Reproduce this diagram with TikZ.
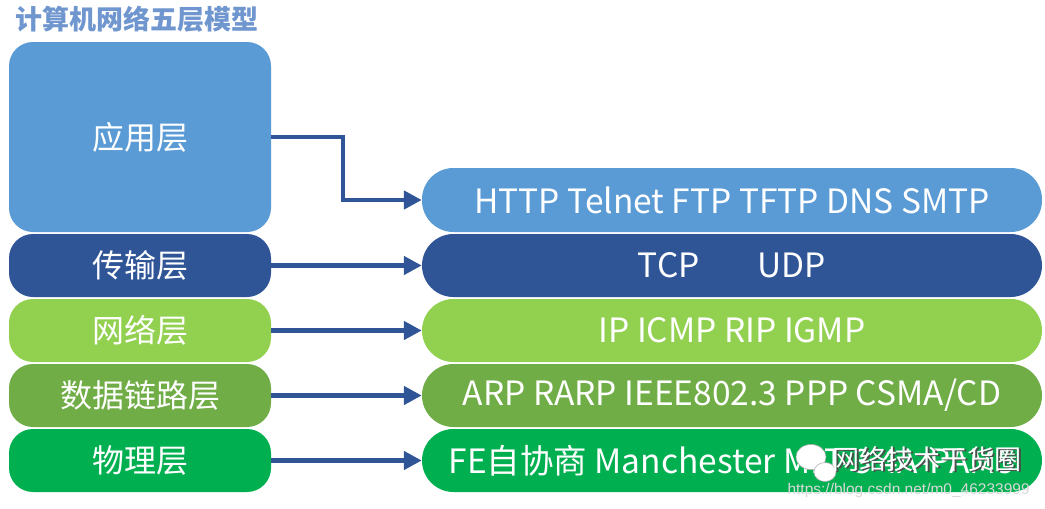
\documentclass[tikz,border=0pt]{standalone}
\usepackage{fontspec}
\setmainfont{Noto Sans CJK SC}
\newfontfamily\urlfont{Liberation Sans}
\usetikzlibrary{arrows.meta}
\definecolor{cApp}{HTML}{5B9BD5}
\definecolor{cTrans}{HTML}{2F5597}
\definecolor{cNet}{HTML}{92D050}
\definecolor{cLink}{HTML}{70AD47}
\definecolor{cPhy}{HTML}{00B050}
\definecolor{cArrow}{HTML}{2F5597}
\definecolor{cTitle}{HTML}{7096CF}
\tikzset{
  leftbox/.style={rectangle, rounded corners=24pt, minimum width=262pt, text=white,
    font=\fontsize{32}{32}\selectfont, inner sep=0pt},
  rightbox/.style={rectangle, rounded corners=31.5pt, minimum width=620pt, minimum height=63pt,
    text=white, font=\fontsize{33.5}{33.5}\selectfont, inner sep=0pt},
  conn/.style={draw=cArrow, line width=4.5pt, -{Triangle[length=18pt,width=18pt]}},
  wmtext/.style={font=\fontsize{27}{27}\selectfont, anchor=west},
}
\begin{document}
\begin{tikzpicture}[x=1pt,y=-1pt]
\useasboundingbox[fill=white] (0,0) rectangle (1045,509);
\node[anchor=west, text=cTitle, font=\fontsize{27}{27}\selectfont\bfseries] (title) at (12,19) {计算机网络五层模型};
% left column
\node[leftbox, fill=cApp, minimum height=190pt] (L1) at (140,137) {应用层};
\node[leftbox, fill=cTrans, minimum height=63pt] (L2) at (140,265.5) {传输层};
\node[leftbox, fill=cNet, minimum height=63pt] (L3) at (140,330.5) {网络层};
\node[leftbox, fill=cLink, minimum height=63pt] (L4) at (140,395.5) {数据链路层};
\node[leftbox, fill=cPhy, minimum height=63pt] (L5) at (140,460.5) {物理层};
% right column
\node[rightbox, fill=cApp, minimum height=64pt] (R1) at (732,200) {HTTP Telnet FTP TFTP DNS SMTP};
\node[rightbox, fill=cTrans] (R2) at (732,265.5) {TCP\hspace{58pt}UDP};
\node[rightbox, fill=cNet] (R3) at (732,330.5) {IP ICMP RIP IGMP};
\node[rightbox, fill=cLink] (R4) at (732,395.5) {ARP RARP IEEE802.3 PPP CSMA/CD};
\node[rightbox, fill=cPhy] (R5) at (732,460.5) {FE自协商 Manchester MLT-3 4A-PAM5};
% connectors
\coordinate (b1) at (343,137);
\draw[conn] (L1.east) -- (b1) |- (R1.west);
\draw[conn] (L2.east) -- (R2.west);
\draw[conn] (L3.east) -- (R3.west);
\draw[conn] (L4.east) -- (R4.west);
\draw[conn] (L5.east) -- (R5.west);
% watermark
\fill[white, draw=gray!60, line width=0.6pt] (811,457) ellipse (15pt and 12.5pt);
\fill[white, draw=gray!60, line width=0.6pt] (825,472) ellipse (11pt and 9.5pt);
\node[wmtext, text=black!70] (wms) at (830.5,460.5) {网络技术干货圈};
\node[wmtext, text=white] (wm) at (829,459) {网络技术干货圈};
\node[text=gray!30, font=\urlfont\fontsize{15.5}{15.5}\selectfont, anchor=west] (url) at (784,490) {https://blog.csdn.net/m0\_46233999};
\end{tikzpicture}
\end{document}
